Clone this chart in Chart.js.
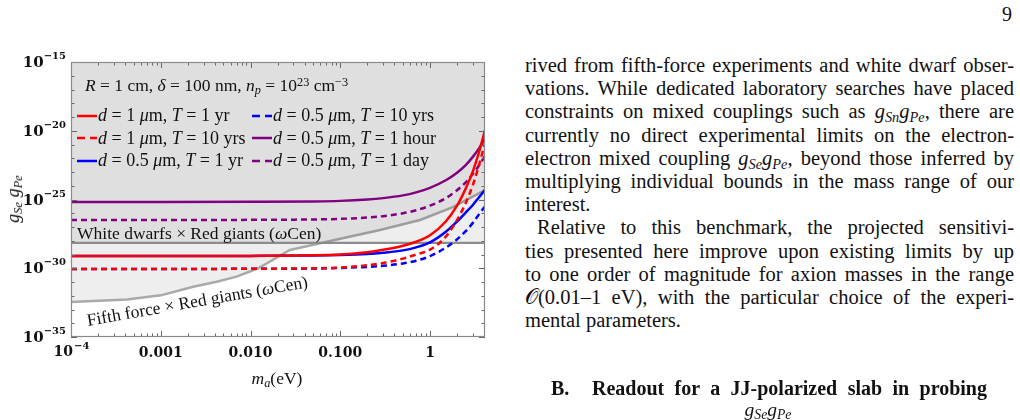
<!DOCTYPE html>
<html>
<head>
<meta charset="utf-8">
<script src="https://cdn.jsdelivr.net/npm/chart.js@4.4.1/dist/chart.umd.min.js"></script>
<style>
  body { margin:0; width:1020px; height:420px; overflow:hidden; position:relative; background:#fff;
         font-family:"Liberation Serif","Times New Roman",serif; color:#111; }
  #plot { position:absolute; left:0; top:0; }
  .abs { position:absolute; white-space:nowrap; line-height:1; }
  .lg { font-size:18px; }
  sub, sup { font-size:70%; line-height:0; }
  sup { vertical-align:0.45em; }
  sub { vertical-align:-0.25em; }
  #text { position:absolute; left:525px; top:54px; width:489px; font-size:20.5px; }
  #text div { height:23.2px; line-height:23.2px; white-space:nowrap; text-align:justify; text-align-last:justify; }
  #text div.last { text-align-last:left; }
  #text div.ind { padding-left:12px; }
  .head { font-weight:bold; font-size:20px; }
</style>
</head>
<body>
<canvas id="plot" width="500" height="420"></canvas>
<div id="overlay"></div>

<div id="text">
  <div>rived from fifth-force experiments and white dwarf obser-</div>
  <div>vations. While dedicated laboratory searches have placed</div>
  <div>constraints on mixed couplings such as <i>g<sub>Sn</sub>g<sub>Pe</sub></i>, there are</div>
  <div>currently no direct experimental limits on the electron-</div>
  <div>electron mixed coupling <i>g<sub>Se</sub>g<sub>Pe</sub></i>, beyond those inferred by</div>
  <div>multiplying individual bounds in the mass range of our</div>
  <div class="last">interest.</div>
  <div class="ind">Relative to this benchmark, the projected sensitivi-</div>
  <div>ties presented here improve upon existing limits by up</div>
  <div>to one order of magnitude for axion masses in the range</div>
  <div>𝒪(0.01–1 eV), with the particular choice of the experi-</div>
  <div class="last">mental parameters.</div>
</div>

<div class="abs head" style="left:551px;top:378px;">B.</div>
<div class="abs head" style="left:592px;top:378px;width:395px;text-align:justify;text-align-last:justify;">Readout for a JJ-polarized slab in probing</div>
<div class="abs" style="left:768px;top:400px;font-size:19.5px;transform:translateX(-50%);"><i>g<sub>Se</sub>g<sub>Pe</sub></i></div>
<div class="abs" style="left:1002px;top:4px;font-size:20px;">9</div>

<script>
const masses = [1e-4, 1e-3, 0.01, 0.05, 0.1, 0.2, 0.3, 0.5, 0.7, 1, 1.5, 2, 2.5, 3, 3.5, 4.1];

// log10(g_Se g_Pe) read for each projected sensitivity
const red1yr    = [-29.11,-29.11,-29.10,-29.06,-29.00,-28.84,-28.66,-28.36,-28.07,-27.60,-26.60,-25.45,-24.20,-22.95,-21.60,-19.95];
const red10yr   = [-30.05,-30.05,-30.04,-30.00,-29.95,-29.78,-29.62,-29.30,-29.00,-28.65,-27.70,-26.50,-25.25,-23.95,-22.55,-20.90];
const blue1yr   = [-29.11,-29.11,-29.10,-29.08,-29.04,-28.96,-28.87,-28.70,-28.48,-28.12,-27.35,-26.60,-25.95,-25.40,-24.85,-24.30];
const blue10yr  = [-30.05,-30.05,-30.04,-30.02,-29.98,-29.90,-29.82,-29.65,-29.45,-29.12,-28.50,-27.90,-27.30,-26.70,-26.10,-25.50];
const purpleHour= [-25.18,-25.18,-25.17,-25.14,-25.10,-25.00,-24.90,-24.70,-24.48,-24.15,-23.60,-23.05,-22.50,-21.90,-21.30,-20.55];
const purpleDay = [-26.49,-26.49,-26.48,-26.45,-26.41,-26.31,-26.21,-26.00,-25.78,-25.45,-24.90,-24.33,-23.75,-23.15,-22.55,-21.85];

// existing bounds
const wdMass = [1e-4, 4.1];
const wdExp  = [-28.16, -28.16];
const ffMass = [1e-4, 4.2e-4, 1e-3, 2.3e-3, 4.2e-3, 7e-3, 0.0122, 0.0275, 0.1, 0.277, 0.774, 1.8, 4.1];
const ffExp  = [-32.45,-32.28,-31.97,-31.34,-30.98,-30.61,-30.00,-28.67,-27.86,-27.22,-26.49,-25.55,-24.31];

const seriesNames = [
  '<i>d</i> = 1 <i>μ</i>m,  <i>T</i> = 1 yr',
  '<i>d</i> = 1 <i>μ</i>m,  <i>T</i> = 10 yrs',
  '<i>d</i> = 0.5 <i>μ</i>m,  <i>T</i> = 1 yr',
  '<i>d</i> = 0.5 <i>μ</i>m,  <i>T</i> = 10 yrs',
  '<i>d</i> = 0.5 <i>μ</i>m,  <i>T</i> = 1 hour',
  '<i>d</i> = 0.5 <i>μ</i>m,  <i>T</i> = 1 day'
];
const seriesColors = ['#ff0000','#ff0000','#0000ff','#0000ff','#800080','#800080'];
const seriesDashed = [false, true, false, true, false, true];
const seriesValues = [red1yr, red10yr, blue1yr, blue10yr, purpleHour, purpleDay];

const yTickExp = [-35, -30, -25, -20, -15];
const xTicks = [1e-4, 0.001, 0.01, 0.1, 1];
const xTickLabels = ['10|−4', '0.001', '0.010', '0.100', '1'];

function pts(xs, es){ return xs.map((m, i) => ({ x: m, y: Math.pow(10, es[i]) })); }

const datasets = seriesValues.map((vals, i) => ({
  data: pts(masses, vals),
  borderColor: seriesColors[i],
  borderWidth: 2.5,
  borderDash: seriesDashed[i] ? [6, 4] : [],
  cubicInterpolationMode: 'monotone',
  fill: false
}));
datasets.push({
  data: pts(wdMass, wdExp), borderColor: '#8c8c8c', borderWidth: 2.2,
  fill: 'end', backgroundColor: 'rgba(0,0,0,0.065)', tension: 0
});
datasets.push({
  data: pts(ffMass, ffExp), borderColor: '#a9a9a9', borderWidth: 2.5,
  fill: 'end', backgroundColor: 'rgba(0,0,0,0.065)', tension: 0
});

// frame, inward ticks and tick labels
const axesDeco = {
  id: 'axesDeco',
  afterDatasetsDraw(chart){
    const { ctx, chartArea: a, scales: { x, y } } = chart;
    ctx.save();
    ctx.strokeStyle = '#666';
    ctx.lineWidth = 1;
    ctx.beginPath();
    for (let d = -4; d <= 0; d++) {
      for (let k = 1; k <= 9; k++) {
        const m = k * Math.pow(10, d);
        if (m > x.max) break;
        const px = Math.round(x.getPixelForValue(m)) + 0.5;
        const len = k === 1 ? 6 : 3.5;
        ctx.moveTo(px, a.bottom); ctx.lineTo(px, a.bottom - len);
        ctx.moveTo(px, a.top); ctx.lineTo(px, a.top + len);
      }
    }
    for (let e = -35; e <= -15; e++) {
      const py = Math.round(y.getPixelForValue(Math.pow(10, e))) + 0.5;
      const len = e % 5 === 0 ? 6 : 3.5;
      ctx.moveTo(a.left, py); ctx.lineTo(a.left + len, py);
      ctx.moveTo(a.right, py); ctx.lineTo(a.right - len, py);
    }
    ctx.stroke();
    ctx.strokeStyle = '#8a8a8a';
    ctx.lineWidth = 1.2;
    ctx.strokeRect(a.left + 0.5, a.top + 0.5, a.right - a.left - 1, a.bottom - a.top - 1);

    ctx.fillStyle = '#111';
    ctx.textBaseline = 'alphabetic';
    const big = 'bold 15px "DejaVu Serif"', small = 'bold 10px "DejaVu Serif"';
    yTickExp.forEach(e => {
      const py = y.getPixelForValue(Math.pow(10, e));
      ctx.font = small; const w2 = ctx.measureText('−' + (-e)).width;
      ctx.font = big; const w1 = ctx.measureText('10').width;
      const right = a.left - 5;
      ctx.textAlign = 'left';
      ctx.fillText('10', right - w1 - w2, py + 5);
      ctx.font = small;
      ctx.fillText('−' + (-e), right - w2, py - 3);
    });
    xTicks.forEach((m, i) => {
      const px = x.getPixelForValue(m);
      const lab = xTickLabels[i];
      ctx.textAlign = 'left';
      if (lab.includes('|')) {
        const [base, ex] = lab.split('|');
        ctx.font = 'bold 14px "DejaVu Serif"'; const w1 = ctx.measureText(base).width;
        ctx.font = 'bold 10px "DejaVu Serif"'; const w2 = ctx.measureText(ex).width;
        const x0 = px - (w1 + w2) / 2;
        ctx.font = 'bold 14px "DejaVu Serif"'; ctx.fillText(base, x0, a.bottom + 19);
        ctx.font = 'bold 10px "DejaVu Serif"'; ctx.fillText(ex, x0 + w1 + 1, a.bottom + 12);
      } else {
        ctx.font = 'bold 14px "DejaVu Serif"';
        ctx.textAlign = 'center';
        ctx.fillText(lab, px, a.bottom + 20);
      }
    });
    ctx.restore();
  }
};

new Chart(document.getElementById('plot').getContext('2d'), {
  type: 'line',
  data: { datasets },
  options: {
    responsive: false,
    animation: false,
    layout: { padding: { left: 71, top: 62, right: 15, bottom: 83 } },
    scales: {
      x: { type: 'logarithmic', min: 1e-4, max: 4.1, display: false },
      y: { type: 'logarithmic', min: 1e-35, max: 1e-15, display: false }
    },
    elements: { point: { radius: 0 } },
    plugins: { legend: { display: false }, tooltip: { enabled: false } }
  },
  plugins: [axesDeco]
});

// legend and labels as text over the canvas
const ov = document.getElementById('overlay');
function addText(html, left, top, cls, style){
  const d = document.createElement('div');
  d.className = 'abs ' + (cls || '');
  d.style.left = left + 'px'; d.style.top = top + 'px';
  if (style) d.style.cssText += style;
  d.innerHTML = html;
  ov.appendChild(d);
  return d;
}
addText('<i>R</i> = 1 cm, <i>δ</i> = 100 nm, <i>n<sub>p</sub></i> = 10<sup>23</sup> cm<sup>−3</sup>', 85, 77, 'lg', 'font-size:17.5px;');
const legendRows = [106, 128.5, 151];
const legendCols = [77, 252];
seriesNames.forEach((name, i) => {
  const col = i < 3 ? 0 : 1, row = i % 3;
  const dash = seriesDashed[i] ? 'stroke-dasharray="8,5"' : '';
  const svg = `<svg width="20" height="6" style="vertical-align:middle;margin-right:1px;position:relative;top:-1px"><line x1="0" y1="3" x2="20" y2="3" stroke="${seriesColors[i]}" stroke-width="2.5" ${dash}/></svg>`;
  addText(svg + name, legendCols[col], legendRows[row], 'lg');
});
addText('White dwarfs × Red giants (<i>ω</i>Cen)', 77, 225, 'lg', 'font-size:17.5px;');
addText('Fifth force × Red giants (<i>ω</i>Cen)', 88, 312, 'lg', 'font-size:17.5px;transform-origin:0 14px;transform:rotate(-10deg);');
addText('<i>m<sub>a</sub></i>(eV)', 277, 370, 'lg', 'font-size:17.5px;transform:translateX(-50%);');
addText('<i>g<sub>Se</sub></i> <i>g<sub>Pe</sub></i>', 13, 199, 'lg', 'transform:translate(-50%,-50%) rotate(-90deg);');
</script>
</body>
</html>
